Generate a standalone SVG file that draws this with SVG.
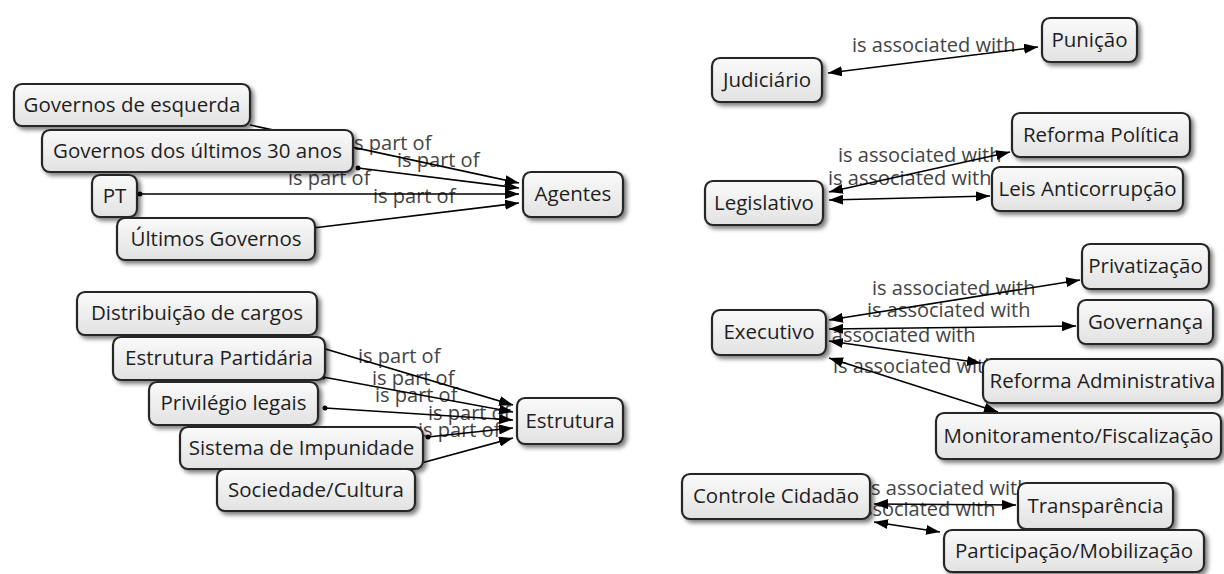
<svg xmlns="http://www.w3.org/2000/svg" width="1224" height="574" viewBox="0 0 1224 574">
<defs>
<linearGradient id="g" x1="0" y1="0" x2="0" y2="1">
<stop offset="0" stop-color="#fafafa"/>
<stop offset="1" stop-color="#e2e2e2"/>
</linearGradient>
<filter id="sh" x="-10%" y="-20%" width="130%" height="160%">
<feGaussianBlur in="SourceAlpha" stdDeviation="2"/>
<feOffset dx="3" dy="3" result="b"/>
<feFlood flood-color="#000" flood-opacity="0.5"/>
<feComposite in2="b" operator="in"/>
<feMerge><feMergeNode/><feMergeNode in="SourceGraphic"/></feMerge>
</filter>
<marker id="ah" viewBox="0 0 14 10" refX="14" refY="5" markerWidth="14" markerHeight="10" markerUnits="userSpaceOnUse" orient="auto-start-reverse">
<path d="M0,0 L14,5 L0,10 z" fill="#000"/>
</marker>
</defs>
<style>
.n rect{fill:url(#g);stroke:#262626;stroke-width:2.2;filter:url(#sh)}
.n text{font-family:"Open Sans","Liberation Sans",sans-serif;font-size:20.5px;fill:#1e1e1e;text-anchor:middle}
.lb{font-family:"Open Sans","Liberation Sans",sans-serif;font-size:20px;fill:#444}
.e{stroke:#000;stroke-width:1.6;fill:none;marker-end:url(#ah)}
.b{stroke:#000;stroke-width:1.6;fill:none;marker-end:url(#ah);marker-start:url(#ah)}
.d{fill:#000}
</style>
<rect width="1224" height="574" fill="#fff"/>
<g id="connectors">
<text class="lb" x="349" y="150">is part of</text>
<text class="lb" x="397" y="167">is part of</text>
<text class="lb" x="288" y="185">is part of</text>
<text class="lb" x="373" y="203">is part of</text>
<text class="lb" x="358" y="363">is part of</text>
<text class="lb" x="372" y="385">is part of</text>
<text class="lb" x="375" y="402">is part of</text>
<text class="lb" x="428" y="420">is part of</text>
<text class="lb" x="418" y="437">is part of</text>
<text class="lb" x="852" y="52">is associated with</text>
<text class="lb" x="838" y="162">is associated with</text>
<text class="lb" x="828" y="185">is associated with</text>
<text class="lb" x="872" y="295">is associated with</text>
<text class="lb" x="867" y="317">is associated with</text>
<text class="lb" x="812" y="342">is associated with</text>
<text class="lb" x="833" y="373">is associated with</text>
<text class="lb" x="866" y="495">is associated with</text>
<text class="lb" x="832" y="516">is associated with</text>
<line class="e" x1="250" y1="125" x2="519" y2="183"/>
<line class="e" x1="358" y1="168" x2="519" y2="188"/>
<line class="e" x1="140" y1="194" x2="519" y2="194"/>
<line class="e" x1="313" y1="228" x2="519" y2="203"/>
<line class="e" x1="272" y1="333" x2="513" y2="405"/>
<line class="e" x1="323" y1="377" x2="513" y2="412"/>
<line class="e" x1="325" y1="408" x2="513" y2="420"/>
<line class="e" x1="428" y1="437" x2="513" y2="428"/>
<line class="e" x1="392" y1="471" x2="513" y2="438"/>
<circle class="d" cx="358" cy="168" r="2.5"/>
<circle class="d" cx="140" cy="194" r="2.5"/>
<circle class="d" cx="313" cy="228" r="2.5"/>
<circle class="d" cx="323" cy="377" r="2.5"/>
<circle class="d" cx="325" cy="408" r="2.5"/>
<circle class="d" cx="428" cy="437" r="2.5"/>
<line class="b" x1="828" y1="73" x2="1038" y2="47"/>
<line class="b" x1="829" y1="192" x2="1010" y2="152"/>
<line class="b" x1="829" y1="200" x2="990" y2="196"/>
<line class="b" x1="829" y1="320" x2="1080" y2="280"/>
<line class="b" x1="829" y1="329" x2="1076" y2="326"/>
<line class="b" x1="829" y1="341" x2="981" y2="363"/>
<line class="b" x1="829" y1="358" x2="998" y2="412"/>
<line class="b" x1="874" y1="504" x2="1016" y2="505"/>
<line class="b" x1="874" y1="522" x2="940" y2="532"/>
</g>
<g id="n1" class="n"><rect x="14" y="84" width="236" height="42" rx="8"/><text x="132" y="112">Governos de esquerda</text></g>
<g id="n2" class="n"><rect x="42" y="130" width="311" height="42" rx="8"/><text x="197.5" y="158">Governos dos últimos 30 anos</text></g>
<g id="n3" class="n"><rect x="92" y="175" width="45" height="42" rx="8"/><text x="114.5" y="203">PT</text></g>
<g id="n4" class="n"><rect x="117" y="218" width="198" height="42" rx="8"/><text x="216" y="246">Últimos Governos</text></g>
<g id="n5" class="n"><rect x="523" y="172" width="100" height="45" rx="8"/><text x="573" y="201">Agentes</text></g>
<g id="n6" class="n"><rect x="77" y="292" width="240" height="43" rx="8"/><text x="197" y="320">Distribuição de cargos</text></g>
<g id="n7" class="n"><rect x="113" y="337" width="212" height="43" rx="8"/><text x="219" y="365">Estrutura Partidária</text></g>
<g id="n8" class="n"><rect x="149" y="382" width="169" height="43" rx="8"/><text x="233.5" y="410">Privilégio legais</text></g>
<g id="n9" class="n"><rect x="180" y="427" width="243" height="42" rx="8"/><text x="301.5" y="455">Sistema de Impunidade</text></g>
<g id="n10" class="n"><rect x="217" y="469" width="198" height="42" rx="8"/><text x="316" y="497">Sociedade/Cultura</text></g>
<g id="n11" class="n"><rect x="517" y="398" width="106" height="46" rx="8"/><text x="570" y="428">Estrutura</text></g>
<g id="n12" class="n"><rect x="712" y="58" width="110" height="44" rx="8"/><text x="767" y="87">Judiciário</text></g>
<g id="n13" class="n"><rect x="1042" y="18" width="95" height="44" rx="8"/><text x="1089.5" y="47">Punição</text></g>
<g id="n14" class="n"><rect x="1012" y="113" width="178" height="44" rx="8"/><text x="1101" y="142">Reforma Política</text></g>
<g id="n15" class="n"><rect x="992" y="167" width="191" height="44" rx="8"/><text x="1087.5" y="196">Leis Anticorrupção</text></g>
<g id="n16" class="n"><rect x="705" y="181" width="118" height="44" rx="8"/><text x="764" y="210">Legislativo</text></g>
<g id="n17" class="n"><rect x="1082" y="244" width="127" height="45" rx="8"/><text x="1145.5" y="273">Privatização</text></g>
<g id="n18" class="n"><rect x="1078" y="300" width="135" height="44" rx="8"/><text x="1145.5" y="329">Governança</text></g>
<g id="n19" class="n"><rect x="712" y="310" width="114" height="45" rx="8"/><text x="769" y="339">Executivo</text></g>
<g id="n20" class="n"><rect x="983" y="359" width="239" height="44" rx="8"/><text x="1102.5" y="388">Reforma Administrativa</text></g>
<g id="n21" class="n"><rect x="936" y="413" width="285" height="46" rx="8"/><text x="1078.5" y="443">Monitoramento/Fiscalização</text></g>
<g id="n22" class="n"><rect x="682" y="474" width="188" height="45" rx="8"/><text x="776" y="503">Controle Cidadão</text></g>
<g id="n23" class="n"><rect x="1018" y="483" width="155" height="46" rx="8"/><text x="1095.5" y="513">Transparência</text></g>
<g id="n24" class="n"><rect x="944" y="530" width="260" height="42" rx="8"/><text x="1074" y="558">Participação/Mobilização</text></g>
</svg>
